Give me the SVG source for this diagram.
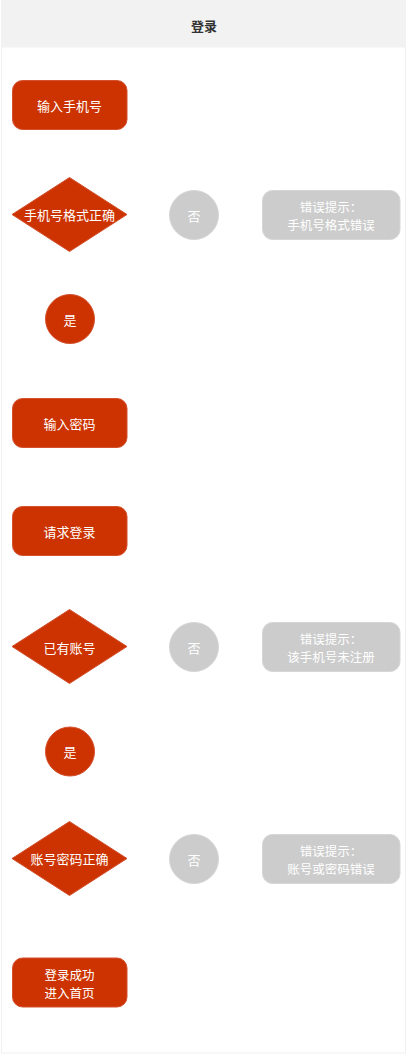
<svg xmlns="http://www.w3.org/2000/svg" width="407" height="1054" viewBox="0 0 407 1054">
<style>
text{font-family:"Microsoft YaHei","Noto Sans CJK SC",sans-serif;font-size:13px;text-anchor:middle;dominant-baseline:central;fill:#fff}
text.two{font-size:12.5px}
.red{fill:#cc3300;stroke:#d4512e;stroke-width:1}
.gray{fill:#cccccc;stroke:#d6d6d6;stroke-width:1}
.title{fill:#333;font-size:13px;font-weight:bold}
</style>
<rect x="0" y="0" width="407" height="1054" fill="#fff"/>
<g id="frame">
<rect x="1.5" y="0.5" width="404" height="1052.5" fill="#fff" stroke="#f0f0f0" stroke-width="1"/>
<rect x="1" y="0" width="405" height="47.5" fill="#f2f2f2"/>
<text class="title" x="204" y="25">登录</text>
</g>
<g id="connectors"></g>
<g id="n1"><rect class="red" x="12.5" y="80.5" width="114.5" height="49" rx="10"/><text x="69.5" y="105">输入手机号</text></g>
<g id="d1"><polygon class="red" points="69.5,177.5 127,214.5 69.5,251.5 12,214.5"/><text x="69.5" y="214.5">手机号格式正确</text></g>
<g id="no1"><circle class="gray" cx="194" cy="215" r="24.5"/><text x="194" y="215">否</text></g>
<g id="e1"><rect class="gray" x="262.5" y="190.5" width="137.5" height="49" rx="10"/><text class="two" x="331" y="206.1">错误提示：</text><text class="two" x="331" y="224.4">手机号格式错误</text></g>
<g id="yes1"><circle class="red" cx="70" cy="319" r="24.5"/><text x="70" y="319">是</text></g>
<g id="n2"><rect class="red" x="12.5" y="398.5" width="114.5" height="49" rx="10"/><text x="69.5" y="423">输入密码</text></g>
<g id="n3"><rect class="red" x="12.5" y="506.5" width="114.5" height="49" rx="10"/><text x="69.5" y="531">请求登录</text></g>
<g id="d2"><polygon class="red" points="69.5,609.5 127,646.5 69.5,683.5 12,646.5"/><text x="69.5" y="647">已有账号</text></g>
<g id="no2"><circle class="gray" cx="194" cy="647" r="24.5"/><text x="194" y="647">否</text></g>
<g id="e2"><rect class="gray" x="262.5" y="622.5" width="137.5" height="49" rx="10"/><text class="two" x="331" y="638.1">错误提示：</text><text class="two" x="331" y="656.4">该手机号未注册</text></g>
<g id="yes2"><circle class="red" cx="70" cy="751.5" r="24.5"/><text x="70" y="751.5">是</text></g>
<g id="d3"><polygon class="red" points="69.5,821.5 127,858.5 69.5,895.5 12,858.5"/><text x="69.5" y="858.5">账号密码正确</text></g>
<g id="no3"><circle class="gray" cx="194" cy="859" r="24.5"/><text x="194" y="859">否</text></g>
<g id="e3"><rect class="gray" x="262.5" y="834.5" width="137.5" height="49" rx="10"/><text class="two" x="331" y="850.1">错误提示：</text><text class="two" x="331" y="868.4">账号或密码错误</text></g>
<g id="n4"><rect class="red" x="12.5" y="958" width="114.5" height="49" rx="10"/><text class="two" x="69.5" y="974.1">登录成功</text><text class="two" x="69.5" y="992.4">进入首页</text></g>
</svg>
